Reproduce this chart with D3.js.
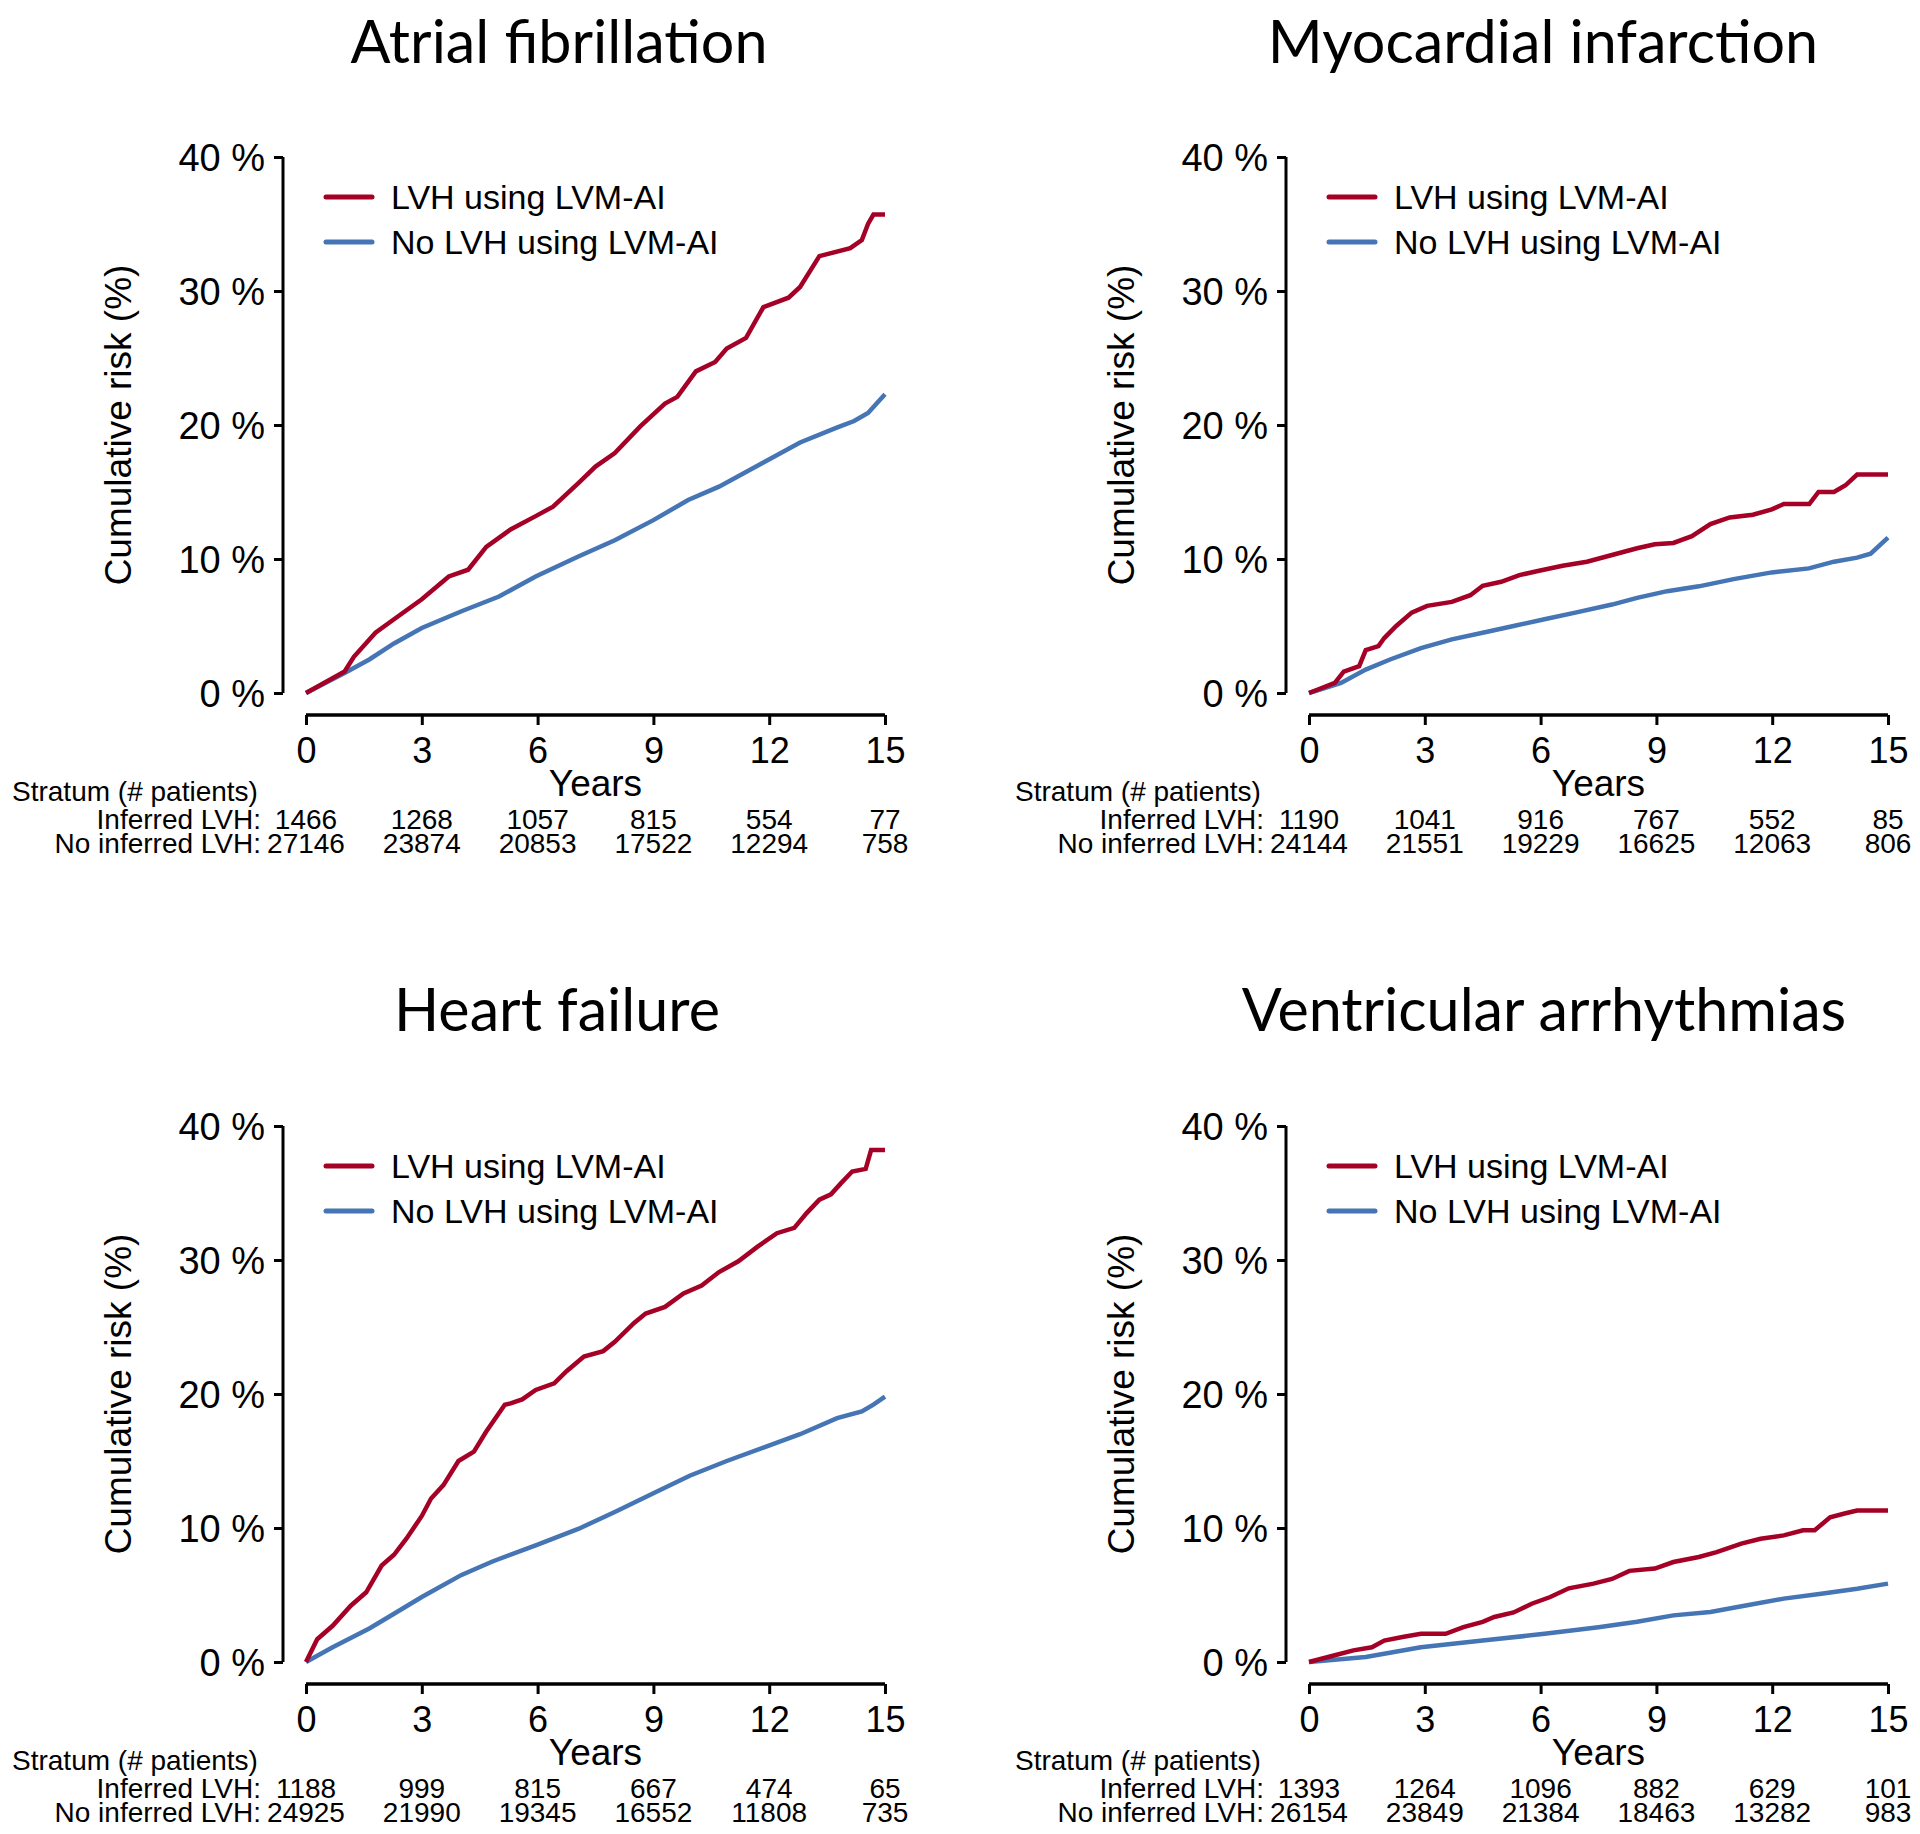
<!DOCTYPE html>
<html>
<head>
<meta charset="utf-8">
<script src="https://cdn.jsdelivr.net/npm/d3@7"></script>
<style>
  html, body { margin: 0; padding: 0; background: #fff; }
  svg { display: block; }
</style>
</head>
<body>
<svg id="chart" width="1920" height="1834"></svg>
<script>
// ---------------- DATA ----------------
const panelTitles = ["Atrial fibrillation", "Myocardial infarction", "Heart failure", "Ventricular arrhythmias"];
const seriesNames = ["LVH using LVM-AI", "No LVH using LVM-AI"];
const seriesColors = ["#a50026", "#4575b4"];
const yearTicks = [0, 3, 6, 9, 12, 15];
const riskTicks = [0, 10, 20, 30, 40];
const yAxisTitle = "Cumulative risk (%)";
const xAxisTitle = "Years";
const tableHeader = "Stratum (# patients)";
const tableLabels = ["Inferred LVH:", "No inferred LVH:"];

// Atrial fibrillation
const afLVH = [[0,0],[0.5,0.8],[1.0,1.6],[1.24,2.7],[1.8,4.5],[2.28,5.5],[3.0,7.0],[3.7,8.7],[4.2,9.2],[4.67,10.9],[5.3,12.2],[5.95,13.2],[6.4,13.9],[7.07,15.7],[7.5,16.9],[8.0,17.9],[8.66,19.9],[9.3,21.6],[9.62,22.1],[10.1,24.0],[10.6,24.7],[10.9,25.7],[11.4,26.5],[11.85,28.8],[12.5,29.5],[12.8,30.3],[13.3,32.6],[14.1,33.2],[14.4,33.8],[14.56,35.0],[14.7,35.7],[15.0,35.7]];
const afNoLVH = [[0,0],[1.0,1.5],[1.64,2.5],[2.28,3.7],[3.0,4.85],[4.03,6.1],[5.0,7.2],[5.95,8.7],[7.07,10.2],[8.0,11.4],[9.0,12.9],[9.9,14.4],[10.7,15.4],[11.85,17.2],[12.8,18.7],[13.75,19.8],[14.2,20.3],[14.56,20.9],[15.0,22.3]];
const afAtRisk = [[1466,1268,1057,815,554,77],[27146,23874,20853,17522,12294,758]];

// Myocardial infarction
const miLVH = [[0,0],[0.67,0.75],[0.9,1.6],[1.3,2.0],[1.47,3.2],[1.8,3.5],[1.95,4.1],[2.26,5.0],[2.66,6.0],[3.06,6.5],[3.7,6.8],[4.18,7.3],[4.5,8.0],[4.98,8.3],[5.45,8.8],[5.93,9.1],[6.57,9.5],[7.2,9.8],[7.85,10.3],[8.5,10.8],[8.96,11.1],[9.44,11.2],[9.92,11.7],[10.4,12.6],[10.9,13.1],[11.5,13.3],[11.99,13.7],[12.3,14.1],[12.96,14.1],[13.2,15.0],[13.6,15.0],[13.9,15.5],[14.2,16.3],[15.0,16.3]];
const miNoLVH = [[0,0],[0.83,0.75],[1.47,1.75],[2.1,2.5],[2.9,3.35],[3.7,4.0],[4.5,4.5],[5.3,5.0],[6.1,5.5],[6.9,6.0],[7.85,6.6],[8.5,7.1],[9.28,7.6],[10.1,7.96],[11.0,8.5],[11.99,9.0],[12.95,9.3],[13.6,9.8],[14.2,10.1],[14.55,10.4],[15.0,11.6]];
const miAtRisk = [[1190,1041,916,767,552,85],[24144,21551,19229,16625,12063,806]];

// Heart failure
const hfLVH = [[0,0],[0.29,1.7],[0.69,2.7],[1.16,4.2],[1.56,5.2],[1.96,7.2],[2.28,8.0],[2.6,9.2],[3.0,10.9],[3.24,12.2],[3.56,13.2],[3.95,15.0],[4.35,15.7],[4.67,17.2],[5.15,19.2],[5.3,19.3],[5.6,19.6],[5.95,20.3],[6.43,20.8],[6.75,21.7],[7.2,22.8],[7.7,23.2],[8.0,23.9],[8.5,25.3],[8.8,26.0],[9.3,26.5],[9.78,27.5],[10.25,28.1],[10.7,29.1],[11.2,29.9],[11.7,31.0],[12.2,32.0],[12.65,32.4],[12.97,33.5],[13.3,34.5],[13.6,34.9],[13.85,35.7],[14.15,36.6],[14.5,36.8],[14.64,38.2],[15.0,38.2]];
const hfNoLVH = [[0,0],[0.69,1.1],[1.64,2.5],[2.28,3.6],[3.0,4.85],[4.03,6.5],[4.83,7.5],[5.95,8.7],[7.07,9.95],[8.0,11.2],[9.0,12.6],[9.94,13.9],[10.9,15.0],[11.85,16.0],[12.8,17.0],[13.76,18.2],[14.4,18.7],[14.7,19.2],[15.0,19.8]];
const hfAtRisk = [[1188,999,815,667,474,65],[24925,21990,19345,16552,11808,735]];

// Ventricular arrhythmias
const vaLVH = [[0,0],[0.67,0.5],[1.15,0.87],[1.63,1.1],[1.95,1.6],[2.42,1.87],[2.9,2.1],[3.54,2.1],[4.0,2.6],[4.5,3.0],[4.8,3.36],[5.3,3.7],[5.77,4.35],[6.25,4.85],[6.73,5.5],[7.37,5.85],[7.85,6.2],[8.3,6.8],[8.96,6.97],[9.44,7.46],[10.1,7.84],[10.56,8.2],[11.2,8.83],[11.7,9.2],[12.3,9.45],[12.8,9.83],[13.1,9.83],[13.5,10.8],[13.9,11.1],[14.2,11.3],[15.0,11.3]];
const vaNoLVH = [[0,0],[1.47,0.37],[2.9,1.1],[4.5,1.6],[6.1,2.1],[7.5,2.6],[8.5,3.0],[9.44,3.48],[10.4,3.73],[11.35,4.23],[12.3,4.73],[13.27,5.1],[14.2,5.47],[15.0,5.85]];
const vaAtRisk = [[1393,1264,1096,882,629,101],[26154,23849,21384,18463,13282,983]];

// ---------------- LAYOUT ----------------
const panels = [
  { title: panelTitles[0], series: [afLVH, afNoLVH], atRisk: afAtRisk, dx: 0,    dy: 0,   titleX: 559,  titleY: 63 },
  { title: panelTitles[1], series: [miLVH, miNoLVH], atRisk: miAtRisk, dx: 1003, dy: 0,   titleX: 1543, titleY: 63 },
  { title: panelTitles[2], series: [hfLVH, hfNoLVH], atRisk: hfAtRisk, dx: 0,    dy: 969, titleX: 557,  titleY: 1031 },
  { title: panelTitles[3], series: [vaLVH, vaNoLVH], atRisk: vaAtRisk, dx: 1003, dy: 969, titleX: 1544, titleY: 1031 }
];

const svg = d3.select("#chart");
const axisFont = "'Liberation Sans', Arial, Helvetica, sans-serif";
const titleFont = "Lato, 'Open Sans', sans-serif";

const x = d3.scaleLinear().domain([0, 15]).range([306, 885]);
const y = d3.scaleLinear().domain([0, 40]).range([693, 157]);

// titles: size fit to target width of reference title
const probe = svg.append("text").attr("font-family", titleFont).attr("font-size", 60).text(panelTitles[0]);
const probeW = probe.node().getComputedTextLength();
probe.remove();
const titleSize = 60 * 417 / probeW;

panels.forEach(p => {
  svg.append("text")
    .attr("x", p.titleX).attr("y", p.titleY)
    .attr("text-anchor", "middle")
    .attr("font-family", titleFont)
    .attr("font-size", titleSize)
    .attr("fill", "#000")
    .text(p.title);

  const g = svg.append("g").attr("transform", `translate(${p.dx},${p.dy})`);

  // Y axis
  const yAxis = g.append("g").attr("transform", "translate(283,0)")
    .call(d3.axisLeft(y).tickValues(riskTicks).tickSize(9).tickPadding(9).tickFormat(d => d + " %"));
  yAxis.select(".domain").attr("stroke", "#000").attr("stroke-width", 3).attr("d", `M0,${y(0)}V${y(40)}`);
  yAxis.selectAll(".tick line").attr("stroke", "#000").attr("stroke-width", 3);
  yAxis.selectAll(".tick text").attr("font-family", axisFont).attr("font-size", 38).attr("fill", "#000")
    .attr("dy", "0.36em");

  // X axis
  const xAxis = g.append("g").attr("transform", "translate(0,715)")
    .call(d3.axisBottom(x).tickValues(yearTicks).tickSize(10).tickPadding(12).tickFormat(d3.format("d")));
  xAxis.select(".domain").attr("stroke", "#000").attr("stroke-width", 3.5).attr("d", `M${x(0)},0H${x(15)}`);
  xAxis.selectAll(".tick line").attr("stroke", "#000").attr("stroke-width", 3);
  xAxis.selectAll(".tick text").attr("font-family", axisFont).attr("font-size", 36).attr("fill", "#000");

  // Axis titles
  g.append("text")
    .attr("transform", `translate(131,${(y(0) + y(40)) / 2}) rotate(-90)`)
    .attr("text-anchor", "middle")
    .attr("font-family", axisFont).attr("font-size", 37).attr("fill", "#000")
    .text(yAxisTitle);
  g.append("text")
    .attr("x", (x(0) + x(15)) / 2).attr("y", 796)
    .attr("text-anchor", "middle")
    .attr("font-family", axisFont).attr("font-size", 37).attr("fill", "#000")
    .text(xAxisTitle);

  // Curves
  const line = d3.line().x(d => x(d[0])).y(d => y(d[1])).curve(d3.curveLinear);
  [1, 0].forEach(i => {
    g.append("path")
      .datum(p.series[i])
      .attr("d", line)
      .attr("fill", "none")
      .attr("stroke", seriesColors[i])
      .attr("stroke-width", 4.5)
      .attr("stroke-linejoin", "miter");
  });

  // Legend
  seriesNames.forEach((name, i) => {
    const ly = 197 + i * 45;
    g.append("line")
      .attr("x1", 326).attr("x2", 372).attr("y1", ly).attr("y2", ly)
      .attr("stroke", seriesColors[i]).attr("stroke-width", 5).attr("stroke-linecap", "round");
    g.append("text")
      .attr("x", 391).attr("y", ly + 12)
      .attr("font-family", axisFont).attr("font-size", 34).attr("fill", "#000")
      .text(name);
  });

  // Risk table
  g.append("text")
    .attr("x", 12).attr("y", 801)
    .attr("font-family", axisFont).attr("font-size", 28).attr("fill", "#000")
    .text(tableHeader);
  tableLabels.forEach((lab, r) => {
    const ry = 829 + r * 24;
    g.append("text")
      .attr("x", 261).attr("y", ry)
      .attr("text-anchor", "end")
      .attr("font-family", axisFont).attr("font-size", 28).attr("fill", "#000")
      .text(lab);
    g.selectAll(null).data(p.atRisk[r]).enter().append("text")
      .attr("x", (d, k) => x(yearTicks[k])).attr("y", ry)
      .attr("text-anchor", "middle")
      .attr("font-family", axisFont).attr("font-size", 28).attr("fill", "#000")
      .text(d => d);
  });
});
</script>
</body>
</html>
